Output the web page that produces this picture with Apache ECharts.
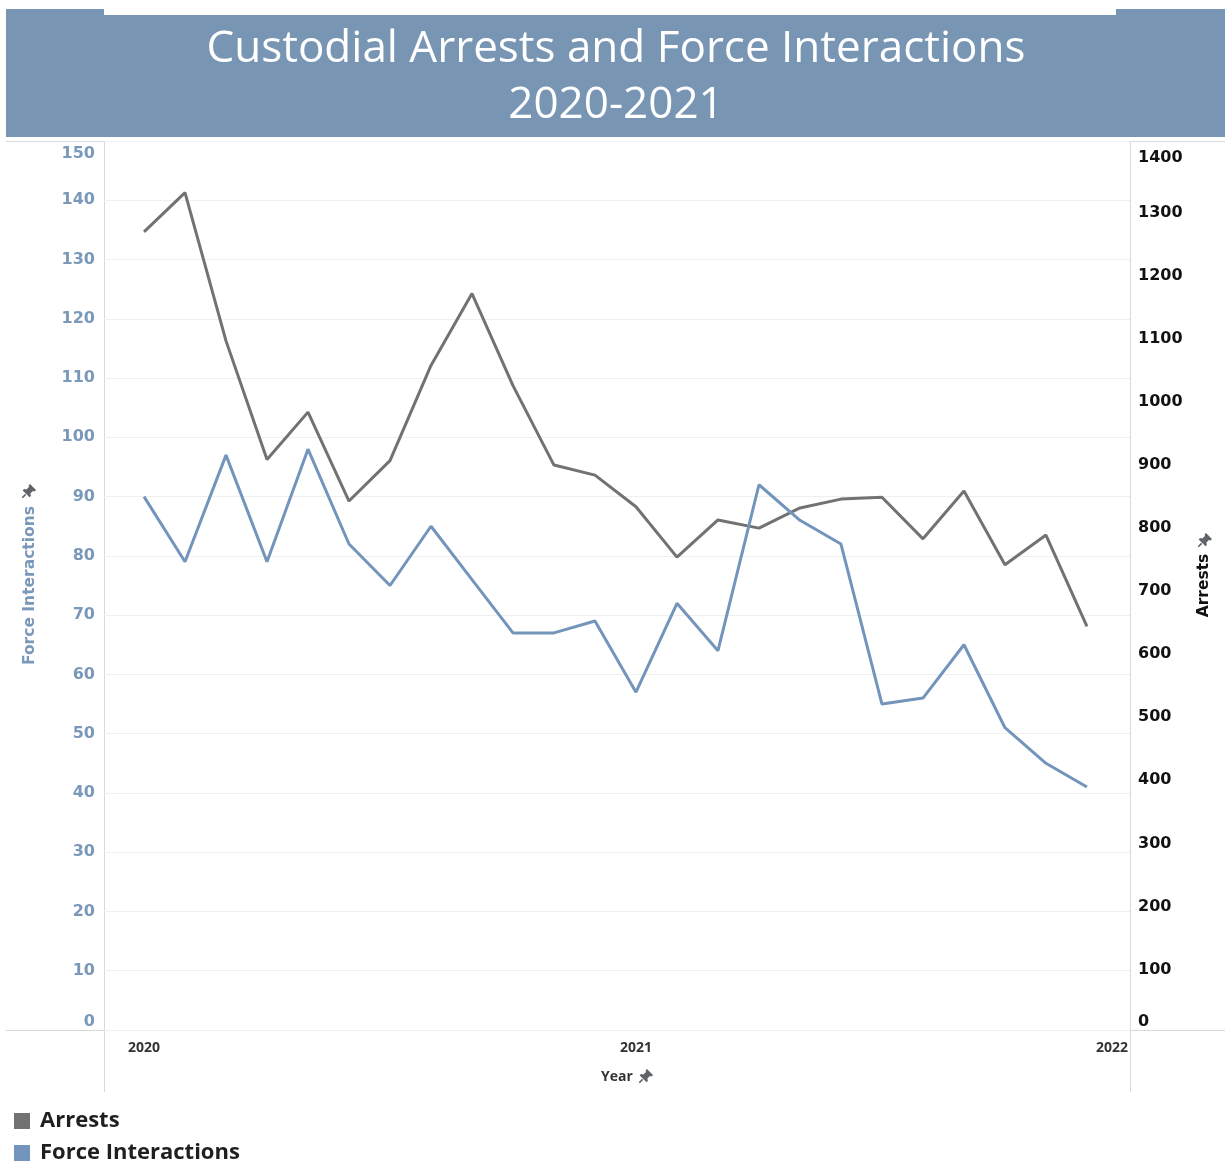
<!DOCTYPE html>
<html>
<head>
<meta charset="utf-8">
<title>Custodial Arrests and Force Interactions 2020-2021</title>
<script src="https://cdn.jsdelivr.net/npm/echarts@6/dist/echarts.min.js"></script>
<style>
  html, body { margin: 0; padding: 0; background: #ffffff; }
  #chart { width: 1225px; height: 1162px; }
</style>
</head>
<body>
<div id="chart"></div>
<script>
// Monthly observations, Jan 2020 – Dec 2021
const months = [
  '2020-01','2020-02','2020-03','2020-04','2020-05','2020-06',
  '2020-07','2020-08','2020-09','2020-10','2020-11','2020-12',
  '2021-01','2021-02','2021-03','2021-04','2021-05','2021-06',
  '2021-07','2021-08','2021-09','2021-10','2021-11','2021-12'
];
const arrests = [
  1266, 1328, 1093, 905, 980, 839, 903, 1054, 1168, 1022, 896, 880,
  830, 750, 809, 796, 828, 842, 845, 779, 855, 738, 785, 640
];
const forceInteractions = [
  90, 79, 97, 79, 98, 82, 75, 85, 76, 67, 67, 69,
  57, 72, 64, 92, 86, 82, 55, 56, 65, 51, 45, 41
];
// Year boundaries shown on the horizontal axis (months since Jan 2020)
const yearTicks = [0, 12, 24];
const yearStart = 2020;
// highest labelled arrests tick; it sits just under the top edge
const arrestsTopTick = 1400;

const GRAY = '#727272';
const BLUE = '#7395bb';
const BLUE_TEXT = '#7a98b9';
const FRAME = '#d9d9d9';
const BANNER = '#7895b4';

// x = month position counted from Jan 2020
const toPoints = vals => vals.map((v, i) => [i, v]);

// small pushpin glyph drawn beside the axis titles
function pin(x, y) {
  return {
    type: 'group', x: x, y: y, silent: true,
    children: [
      { type: 'polygon',
        shape: { points: [[8,0],[14,6],[12.6,7.4],[11,7],[8.4,9.6],[8.9,12],[7.6,13.3],[0.7,6.4],[2,5.1],[4.4,5.6],[7,3],[6.6,1.4]] },
        style: { fill: '#5f6266' } },
      { type: 'line', shape: { x1: 3.6, y1: 10.4, x2: 0.3, y2: 13.7 },
        style: { stroke: '#5f6266', lineWidth: 1.6 } }
    ]
  };
}

const chart = echarts.init(document.getElementById('chart'), null, { renderer: 'canvas' });

chart.setOption({
  backgroundColor: '#ffffff',
  animation: false,
  title: {
    text: 'Custodial Arrests and Force Interactions\n2020-2021',
    left: 611,
    textAlign: 'center',
    top: 16,
    padding: 5,
    textStyle: {
      color: '#ffffff',
      fontFamily: 'Open Sans',
      fontWeight: 'normal',
      fontSize: 44,
      lineHeight: 56
    },
    z: 10
  },
  legend: {
    orient: 'vertical',
    left: 14,
    top: 1110,
    height: 80,
    padding: 0,
    icon: 'rect',
    itemWidth: 16,
    itemHeight: 16,
    itemGap: 10,
    data: ['Arrests', 'Force Interactions'],
    textStyle: {
      fontFamily: 'Open Sans', fontWeight: 'bold', fontSize: 22, lineHeight: 18,
      color: '#1f1f1f', padding: [0, 0, 0, 5]
    }
  },
  grid: { left: 104, right: 95, top: 141, bottom: 132, containLabel: false },
  xAxis: {
    type: 'value',
    min: -0.976,
    max: 24.05,
    name: 'Year',
    nameLocation: 'middle',
    nameGap: 40,
    nameTextStyle: { fontFamily: 'Open Sans', fontWeight: 'bold', fontSize: 14, color: '#333333' },
    axisLine: { show: false },
    axisTick: { show: false },
    splitLine: { show: false },
    axisLabel: {
      customValues: yearTicks,
      formatter: v => String(yearStart + Math.round(v / 12)),
      fontFamily: 'Open Sans',
      fontWeight: 'bold',
      fontSize: 14,
      color: '#333333',
      margin: 11,
      alignMaxLabel: 'right'
    }
  },
  yAxis: [
    {
      type: 'value',
      position: 'left',
      min: 0,
      max: 150,
      interval: 10,
      name: 'Force Interactions',
      nameLocation: 'middle',
      nameRotate: 90,
      nameGap: 66,
      nameTextStyle: { fontFamily: 'DejaVu Sans', fontWeight: 'bold', fontSize: 15.5, color: BLUE_TEXT },
      axisLine: { show: false },
      axisTick: { show: false },
      splitLine: { show: true, lineStyle: { color: '#efefef', width: 1 } },
      axisLabel: {
        formatter: v => String(v),
        fontFamily: 'DejaVu Sans',
        fontWeight: 'bold',
        fontSize: 16,
        color: BLUE_TEXT,
        margin: 9,
        padding: [5, 0, 0, 0],
        verticalAlignMinLabel: 'bottom',
        verticalAlignMaxLabel: 'top'
      }
    },
    {
      type: 'value',
      position: 'right',
      min: 0,
      max: 1410,
      interval: 100,
      name: 'Arrests',
      nameLocation: 'middle',
      nameRotate: 90,
      nameGap: 66,
      nameTextStyle: { fontFamily: 'DejaVu Sans', fontWeight: 'bold', fontSize: 15.5, color: '#111111' },
      axisLine: { show: false },
      axisTick: { show: false },
      splitLine: { show: false },
      axisLabel: {
        formatter: v => (v === arrestsTopTick ? '{top|' + v + '}' : String(v)),
        rich: {
          top: {
            fontFamily: 'DejaVu Sans', fontWeight: 'bold', fontSize: 16, color: '#111111',
            padding: [16, 0, 0, 0]
          }
        },
        fontFamily: 'DejaVu Sans',
        fontWeight: 'bold',
        fontSize: 16,
        color: '#111111',
        margin: 8,
        padding: [5, 0, 0, 0],
        verticalAlignMinLabel: 'bottom',
        verticalAlignMaxLabel: 'top'
      }
    }
  ],
  series: [
    {
      name: 'Arrests',
      type: 'line',
      yAxisIndex: 1,
      data: toPoints(arrests),
      showSymbol: false,
      color: GRAY,
      lineStyle: { width: 3, color: GRAY }
    },
    {
      name: 'Force Interactions',
      type: 'line',
      yAxisIndex: 0,
      data: toPoints(forceInteractions),
      showSymbol: false,
      color: BLUE,
      lineStyle: { width: 3, color: BLUE }
    }
  ],
  graphic: [
    // title banner
    { type: 'rect', shape: { x: 6, y: 15, width: 1219, height: 122 }, style: { fill: BANNER }, z: -1, silent: true },
    { type: 'rect', shape: { x: 6, y: 9, width: 98, height: 6 }, style: { fill: BANNER }, z: -1, silent: true },
    { type: 'rect', shape: { x: 1116, y: 9, width: 109, height: 6 }, style: { fill: BANNER }, z: -1, silent: true },
    // frame rules around the plot
    { type: 'line', shape: { x1: 6, y1: 141.5, x2: 1225, y2: 141.5 }, style: { stroke: FRAME, lineWidth: 1 }, silent: true },
    { type: 'line', shape: { x1: 6, y1: 1030.5, x2: 1225, y2: 1030.5 }, style: { stroke: FRAME, lineWidth: 1 }, silent: true },
    { type: 'line', shape: { x1: 104.5, y1: 141, x2: 104.5, y2: 1092 }, style: { stroke: FRAME, lineWidth: 1 }, silent: true },
    { type: 'line', shape: { x1: 1130.5, y1: 141, x2: 1130.5, y2: 1092 }, style: { stroke: FRAME, lineWidth: 1 }, silent: true },
    // pins beside the field titles
    pin(22, 484),
    pin(1198, 533),
    pin(639, 1069)
  ]
});
</script>
</body>
</html>
